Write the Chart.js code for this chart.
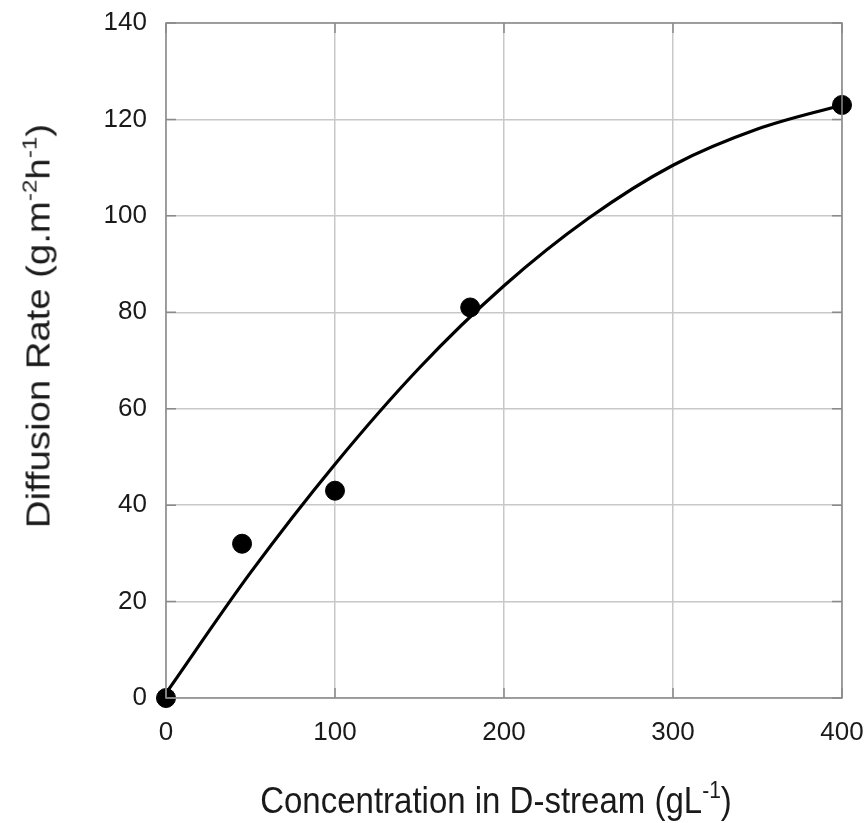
<!DOCTYPE html>
<html>
<head>
<meta charset="utf-8">
<script src="https://cdn.jsdelivr.net/npm/chart.js@4.4.1/dist/chart.umd.min.js"></script>
<style>
  html, body { margin: 0; padding: 0; background: #fff; }
  #wrap { position: relative; width: 867px; height: 823px; font-family: "Liberation Sans", Arial, sans-serif; color: #1a1a1a; }
  #chart { position: absolute; left: 0; top: 0; }
  .title { position: absolute; font-size: 33px; white-space: nowrap; line-height: 1; }
  .title sup { font-size: 21px; vertical-align: 0; position: relative; top: -13px; }
  #xTitle { left: 496px; top: 800px; transform: translate(-50%, -50%) scaleY(1.12); }
  #yTitle { left: 38px; top: 326px; transform: translate(-50%, -50%) rotate(-90deg) scaleX(1.16); }
</style>
</head>
<body>
<div id="wrap">
  <canvas id="chart" width="867" height="823"></canvas>
  <div class="title" id="xTitle">Concentration in D-stream (gL<sup>-1</sup>)</div>
  <div class="title" id="yTitle">Diffusion Rate (g.m<sup>-2</sup>h<sup>-1</sup>)</div>
</div>
<script>
// measured points
const concX = [0, 45, 100, 180, 400];
const rateY = [0, 32, 43, 81, 123];

// fitted curve
const curveX = [0, 50, 100, 150, 200, 250, 300, 350, 400];
const curveY = [1, 26, 48.5, 68.5, 85.5, 99.5, 110.5, 118, 123];

const xTicks = [0, 100, 200, 300, 400];
const yTicks = [0, 20, 40, 60, 80, 100, 120, 140];

const tickFont = { family: '"Liberation Sans", Arial, sans-serif', size: 26 };

// box round the plot area with short inner ticks
const framePlugin = {
    id: 'frame',
    afterDraw(chart) {
        const { ctx, chartArea: a, scales } = chart;
        ctx.save();
        ctx.strokeStyle = '#8a8a8a';
        ctx.lineWidth = 1.5;
        ctx.strokeRect(a.left, a.top, a.right - a.left, a.bottom - a.top);
        ctx.beginPath();
        yTicks.forEach(v => {
            const y = scales.y.getPixelForValue(v);
            ctx.moveTo(a.left, y); ctx.lineTo(a.left + 10, y);
            ctx.moveTo(a.right, y); ctx.lineTo(a.right - 10, y);
        });
        xTicks.forEach(v => {
            const x = scales.x.getPixelForValue(v);
            ctx.moveTo(x, a.bottom); ctx.lineTo(x, a.bottom - 10);
            ctx.moveTo(x, a.top); ctx.lineTo(x, a.top + 10);
        });
        ctx.stroke();
        ctx.restore();
    }
};

new Chart(document.getElementById('chart'), {
    type: 'scatter',
    data: {
        datasets: [
            {
                type: 'line',
                data: curveX.map((x, i) => ({ x: x, y: curveY[i] })),
                borderColor: '#000',
                borderWidth: 3.2,
                pointRadius: 0,
                cubicInterpolationMode: 'monotone',
                fill: false,
                clip: false,
                order: 2
            },
            {
                data: concX.map((x, i) => ({ x: x, y: rateY[i] })),
                backgroundColor: '#000',
                borderColor: '#000',
                pointRadius: 9.5,
                clip: false,
                order: 1
            }
        ]
    },
    options: {
        responsive: false,
        animation: false,
        layout: { padding: { left: 0, right: 25, top: 23, bottom: 0 } },
        plugins: { legend: { display: false }, tooltip: { enabled: false } },
        scales: {
            x: {
                type: 'linear',
                min: 0, max: 400,
                afterBuildTicks: s => { s.ticks = xTicks.map(v => ({ value: v })); },
                afterFit: s => { s.height = 125; s.paddingLeft = 0; s.paddingRight = 0; },
                grid: { color: '#c8c8c8', lineWidth: 1.5, drawTicks: false },
                border: { display: false },
                ticks: { padding: 19, color: '#1a1a1a', font: tickFont }
            },
            y: {
                min: 0, max: 140,
                afterBuildTicks: s => { s.ticks = yTicks.map(v => ({ value: v })); },
                afterFit: s => { s.width = 166; s.paddingTop = 0; s.paddingBottom = 0; },
                grid: { color: '#c8c8c8', lineWidth: 1.5, drawTicks: false },
                border: { display: false },
                ticks: { padding: 19, color: '#1a1a1a', font: tickFont }
            }
        }
    },
    plugins: [framePlugin]
});
</script>
</body>
</html>
